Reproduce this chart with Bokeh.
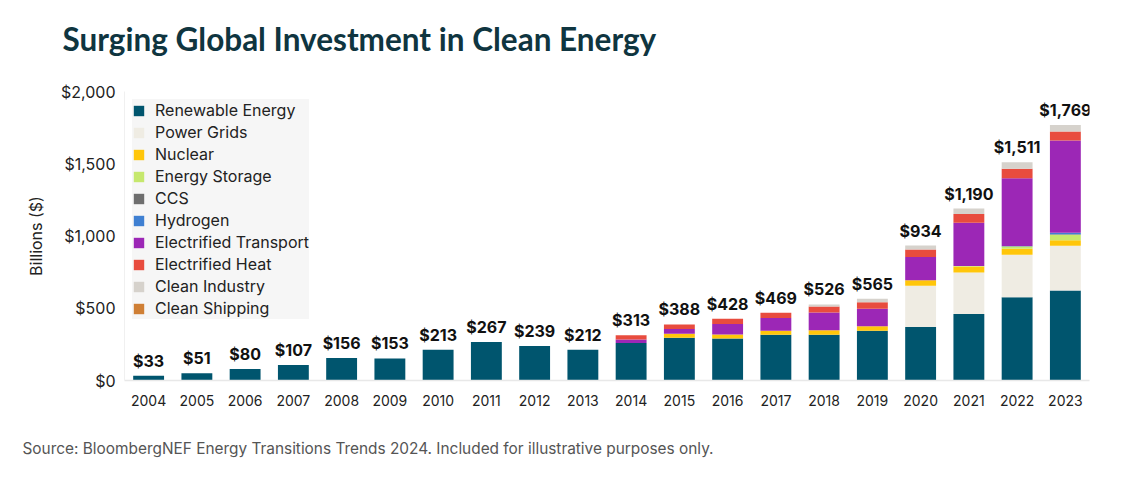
from bokeh.plotting import figure
from bokeh.models import (ColumnDataSource, Range1d, FixedTicker, NumeralTickFormatter,
                          LabelSet, Title)
from bokeh.core.properties import value
from bokeh.embed import file_html
from bokeh.resources import INLINE

years = ["2004", "2005", "2006", "2007", "2008", "2009", "2010", "2011", "2012", "2013",
         "2014", "2015", "2016", "2017", "2018", "2019", "2020", "2021", "2022", "2023"]
totals = [33, 51, 80, 107, 156, 153, 213, 267, 239, 212,
          313, 388, 428, 469, 526, 565, 934, 1190, 1511, 1769]

renewable = [33, 51, 80, 107, 156, 153, 213, 267, 239, 212,
             260, 296, 291, 316, 317, 344, 370, 460, 576, 622]
power_grids = [0] * 16 + [286, 288, 295, 311]
nuclear = [0] * 11 + [28, 28, 28, 30, 32, 37, 41, 41, 37]
storage = [0] * 16 + [1, 3, 16, 39]
ccs = [0] * 18 + [1, 3]
hydrogen = [0] * 18 + [1, 10]
transport = [0] * 10 + [23, 32, 72, 88, 124, 120, 161, 299, 470, 639]
heat = [0] * 10 + [30, 32, 37, 37, 41, 46, 51, 62, 65, 62]
industry = [0] * 14 + [14, 23, 28, 37, 46, 45]
shipping = [0] * 19 + [1]

names = ["Renewable Energy", "Power Grids", "Nuclear", "Energy Storage", "CCS",
         "Hydrogen", "Electrified Transport", "Electrified Heat", "Clean Industry",
         "Clean Shipping"]
keys = ["renewable", "power_grids", "nuclear", "storage", "ccs", "hydrogen",
        "transport", "heat", "industry", "shipping"]
colors = ["#00556e", "#efece3", "#ffc60a", "#c6e86d", "#6e6e6e", "#3f80d2",
          "#9c27b6", "#e84c3e", "#d6d2cc", "#cf7f35"]

x = list(range(len(years)))
src = ColumnDataSource(dict(x=x, renewable=renewable, power_grids=power_grids,
                            nuclear=nuclear, storage=storage, ccs=ccs, hydrogen=hydrogen,
                            transport=transport, heat=heat, industry=industry,
                            shipping=shipping))
lab_src = ColumnDataSource(dict(x=x, y=totals, t=[f"${v:,}" for v in totals]))

FONT = "Inter"

p = figure(width=1116, height=472, x_range=Range1d(-0.5, 19.5), y_range=Range1d(0, 2000),
           output_backend="svg", toolbar_location=None, title=None,
           min_border_left=124, min_border_right=27, min_border_top=91, min_border_bottom=92)
p.outline_line_color = None
p.xgrid.visible = False
p.ygrid.visible = False
p.background_fill_color = "white"

# spacer (closest to the frame) then the main title above it
spacer = Title(text=" ", text_font_size="1px", standoff=31)
p.add_layout(spacer, "above")
main_title = Title(text="Surging Global Investment in Clean Energy", align="left",
                   offset=-62, standoff=0, text_font="Lato", text_font_style="bold",
                   text_font_size="31.5px", text_color="#0f3540")
p.add_layout(main_title, "above")

p.vbar_stack(keys, x="x", width=0.64, color=colors, source=src, legend_label=names,
             line_color=None)

labels = LabelSet(x="x", y="y", text="t", source=lab_src, text_align="center",
                  text_baseline="bottom", y_offset=5, text_font=value(FONT),
                  text_font_style="bold", text_font_size="16px", text_color="#111111")
p.add_layout(labels)

# axes
p.xaxis.ticker = FixedTicker(ticks=x)
p.xaxis.major_label_overrides = {i: y for i, y in enumerate(years)}
p.xaxis.major_tick_line_color = None
p.xaxis.major_tick_out = 0
p.xaxis.minor_tick_line_color = None
p.xaxis.minor_tick_out = 0
p.xaxis.axis_line_color = "#e8e8e8"
p.xaxis.axis_line_width = 1.5
p.xaxis.major_label_text_font = FONT
p.xaxis.major_label_text_font_size = "14px"
p.xaxis.major_label_text_color = "#222222"
p.xaxis.major_label_standoff = 14

p.yaxis.ticker = FixedTicker(ticks=[0, 500, 1000, 1500, 2000])
p.yaxis.formatter = NumeralTickFormatter(format="$0,0")
p.yaxis.major_tick_line_color = None
p.yaxis.major_tick_out = 0
p.yaxis.minor_tick_line_color = None
p.yaxis.minor_tick_out = 0
p.yaxis.axis_line_color = "#f0f0f0"
p.yaxis.major_label_text_font = FONT
p.yaxis.major_label_text_font_size = "16px"
p.yaxis.major_label_text_color = "#222222"
p.yaxis.major_label_standoff = 9
p.yaxis.axis_label = "Billions ($)"
p.yaxis.axis_label_text_font = FONT
p.yaxis.axis_label_text_font_style = "normal"
p.yaxis.axis_label_text_font_size = "16px"
p.yaxis.axis_label_text_color = "#222222"
p.yaxis.axis_label_standoff = 12

# legend
lg = p.legend[0]
lg.location = "top_left"
lg.margin = 8
lg.padding = 8
lg.spacing = 0
lg.label_height = 22
lg.glyph_height = 13
lg.glyph_width = 13
lg.label_standoff = 10
lg.label_text_font = FONT
lg.label_text_font_size = "16px"
lg.label_text_color = "#222222"
lg.background_fill_color = "#f6f6f6"
lg.background_fill_alpha = 1
lg.border_line_color = None

# source note: spacer below the x axis, then the note
spacer_b = Title(text=" ", text_font_size="1px", standoff=25)
p.add_layout(spacer_b, "below")
src_note = Title(text="Source: BloombergNEF Energy Transitions Trends 2024. Included for illustrative purposes only.",
                 align="left", offset=-102, standoff=0, text_font=FONT,
                 text_font_size="15.4px", text_font_style="normal", text_color="#555555")
p.add_layout(src_note, "below")

open("out.html", "w").write(file_html(p, INLINE))
